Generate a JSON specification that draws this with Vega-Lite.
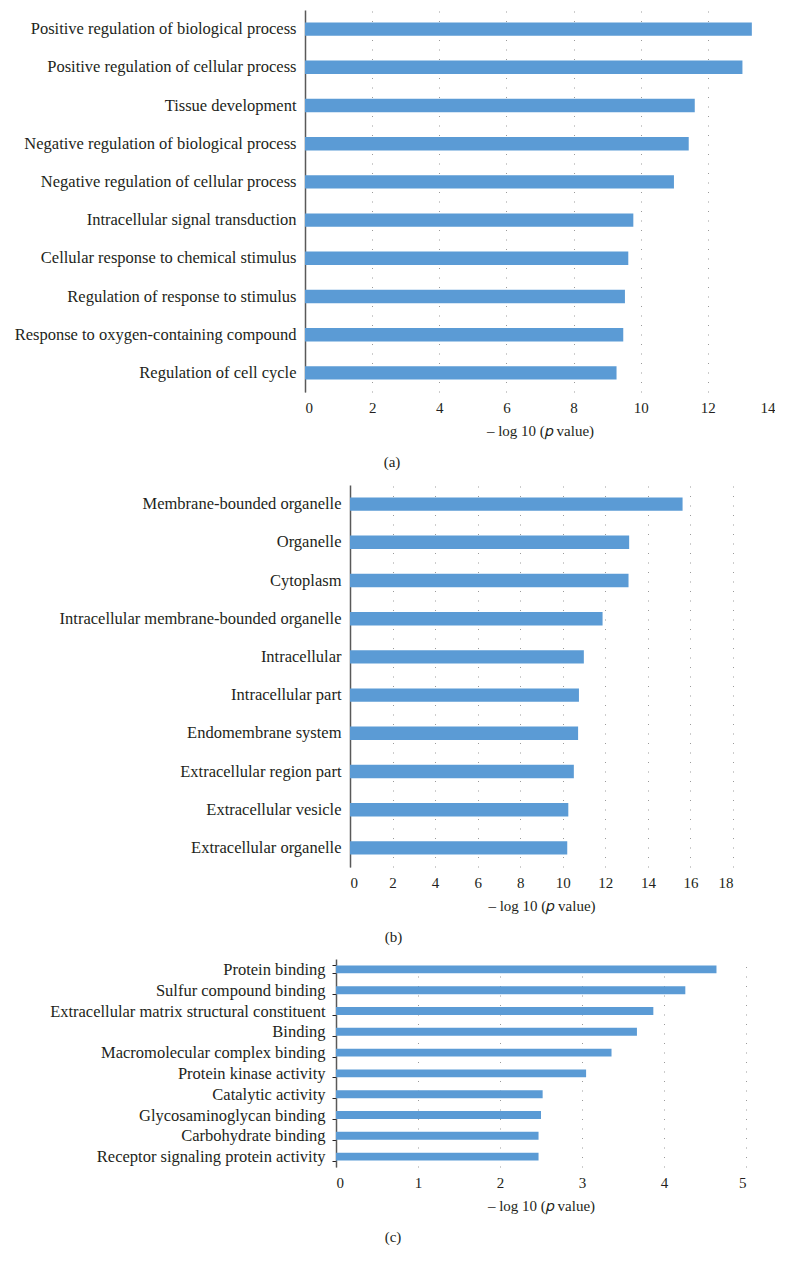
{
  "$schema": "https://vega.github.io/schema/vega-lite/v6.json",
  "padding": {"left": 0, "top": 10, "right": 0, "bottom": 0},
  "background": "white",
  "spacing": 15,
  "config": {
    "font": "Liberation Serif",
    "view": {"stroke": null},
    "axis": {
      "labelFont": "Liberation Serif",
      "titleFont": "Liberation Serif",
      "labelColor": "#231f20",
      "titleColor": "#231f20",
      "labelFontSize": 15,
      "titleFontSize": 15,
      "titleFontWeight": "normal"
    },
    "axisY": {"domain": true, "domainColor": "#595959", "domainWidth": 1.5, "ticks": false, "labelPadding": 9, "labelLimit": 400, "labelFontSize": 16.5, "grid": false},
    "axisX": {"domain": false, "ticks": false, "labelPadding": 8, "titlePadding": 8, "grid": true, "gridDash": [1, 8.5], "gridColor": "#9a9a9a", "gridWidth": 1},
    "title": {"orient": "bottom", "anchor": "middle", "frame": "group", "dx": -148, "offset": 17, "fontSize": 15, "fontWeight": "normal", "font": "Liberation Serif", "color": "#231f20"},
    "bar": {"color": "#5B9BD5"}
  },
  "datasets": {
    "none": [],
    "a": [
      {"term": "Positive regulation of biological process", "value": 13.31},
      {"term": "Positive regulation of cellular process", "value": 13.03},
      {"term": "Tissue development", "value": 11.61},
      {"term": "Negative regulation of biological process", "value": 11.43},
      {"term": "Negative regulation of cellular process", "value": 10.99},
      {"term": "Intracellular signal transduction", "value": 9.78},
      {"term": "Cellular response to chemical stimulus", "value": 9.63},
      {"term": "Regulation of response to stimulus", "value": 9.53},
      {"term": "Response to oxygen-containing compound", "value": 9.48},
      {"term": "Regulation of cell cycle", "value": 9.28}
    ],
    "b": [
      {"term": "Membrane-bounded organelle", "value": 15.63},
      {"term": "Organelle", "value": 13.12},
      {"term": "Cytoplasm", "value": 13.09},
      {"term": "Intracellular membrane-bounded organelle", "value": 11.87},
      {"term": "Intracellular", "value": 10.99},
      {"term": "Intracellular part", "value": 10.76},
      {"term": "Endomembrane system", "value": 10.72},
      {"term": "Extracellular region part", "value": 10.52},
      {"term": "Extracellular vesicle", "value": 10.26},
      {"term": "Extracellular organelle", "value": 10.21}
    ],
    "c": [
      {"term": "Protein binding", "value": 4.64},
      {"term": "Sulfur compound binding", "value": 4.26},
      {"term": "Extracellular matrix structural constituent", "value": 3.87},
      {"term": "Binding", "value": 3.67},
      {"term": "Macromolecular complex binding", "value": 3.36},
      {"term": "Protein kinase activity", "value": 3.05},
      {"term": "Catalytic activity", "value": 2.52},
      {"term": "Glycosaminoglycan binding", "value": 2.5},
      {"term": "Carbohydrate binding", "value": 2.47},
      {"term": "Receptor signaling protein activity", "value": 2.47}
    ]
  },
  "vconcat": [
    {
      "spacing": 0,
      "hconcat": [
        {"data": {"name": "none"}, "width": 1, "height": 1, "mark": "point"},
        {
          "data": {"name": "a"},
          "width": 470,
          "height": 382,
          "title": {"text": "(a)"},
          "mark": {"type": "bar"},
          "encoding": {
            "y": {"field": "term", "type": "nominal", "sort": null, "scale": {"paddingInner": 0.65, "paddingOuter": 0.325}, "axis": {"title": null, "minExtent": 304}},
            "x": {"field": "value", "type": "quantitative", "scale": {"domain": [0, 14], "nice": false}, "axis": {"title": "– log 10 (𝑝 value)", "values": [0, 2, 4, 6, 8, 10, 12, 14]}}
          }
        }
      ]
    },
    {
      "spacing": 6,
      "vconcat": [
        {
          "spacing": 0,
          "hconcat": [
            {"data": {"name": "none"}, "width": 1, "height": 1, "mark": "point"},
            {
              "data": {"name": "b"},
              "width": 383,
              "height": 382,
              "title": {"text": "(b)"},
              "mark": {"type": "bar"},
              "encoding": {
                "y": {"field": "term", "type": "nominal", "sort": null, "scale": {"paddingInner": 0.65, "paddingOuter": 0.325}, "axis": {"title": null, "minExtent": 349}},
                "x": {"field": "value", "type": "quantitative", "scale": {"domain": [0, 18], "nice": false}, "axis": {"title": "– log 10 (𝑝 value)", "values": [0, 2, 4, 6, 8, 10, 12, 14, 16, 18]}}
              }
            }
          ]
        },
        {
          "spacing": 0,
          "hconcat": [
            {"data": {"name": "none"}, "width": 1, "height": 1, "mark": "point"},
            {
              "data": {"name": "c"},
              "width": 410,
              "height": 208,
              "title": {"text": "(c)"},
              "mark": {"type": "bar"},
              "encoding": {
                "y": {"field": "term", "type": "nominal", "sort": null, "scale": {"paddingInner": 0.62, "paddingOuter": 0.31}, "axis": {"title": null, "minExtent": 335, "ticks": true, "tickBand": "extent", "tickSize": 4, "tickColor": "#231f20", "tickWidth": 1, "labelPadding": 7}},
                "x": {"field": "value", "type": "quantitative", "scale": {"domain": [0, 5], "nice": false}, "axis": {"title": "– log 10 (𝑝 value)", "values": [0, 1, 2, 3, 4, 5]}}
              }
            }
          ]
        }
      ]
    }
  ]
}
